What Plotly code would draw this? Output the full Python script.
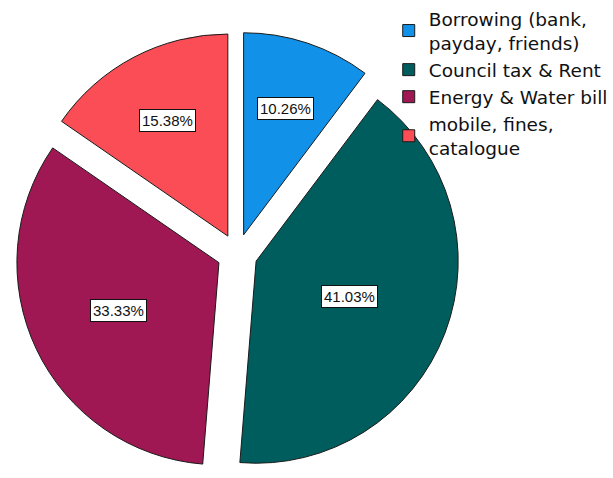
import math
import plotly.graph_objects as go

# Survey: type of debt respondents were behind on (n = 39)
categories = [
    "Borrowing (bank,<br>payday, friends)",
    "Council tax & Rent",
    "Energy & Water bill",
    "mobile, fines,<br>catalogue",
]
counts = [4, 16, 13, 6]
colors = ["#1192e8", "#005d5d", "#9f1853", "#fa4d56"]

W, H = 613, 478
PULL = 0.1
# pie domain (paper fractions)
dom_x = [15 / W, 461 / W]
dom_y = [0.0, 1 - 30 / H]

fig = go.Figure()
fig.add_trace(go.Pie(
    labels=categories,
    values=counts,
    marker=dict(colors=colors, line=dict(color="#1a1a1a", width=1)),
    pull=[PULL] * len(counts),
    sort=False,
    direction="clockwise",
    rotation=0,
    textinfo="none",
    hoverinfo="label+percent",
    domain=dict(x=dom_x, y=dom_y),
    showlegend=True,
))

# percentage boxes at each exploded slice's centroid
total = sum(counts)
box_w = W * (dom_x[1] - dom_x[0])
box_h = H * (dom_y[1] - dom_y[0])
R = min(box_w, box_h) / 2 / (1 + PULL)
cx = W * (dom_x[0] + dom_x[1]) / 2
cy = H * (1 - (dom_y[0] + dom_y[1]) / 2)
start = 0.0
for n in counts:
    frac = n / total
    sweep = frac * 2 * math.pi
    mid = start + sweep / 2
    half = sweep / 2
    rc = 2 * R * math.sin(half) / (3 * half) + PULL * R
    px = cx + rc * math.sin(mid)
    py = cy - rc * math.cos(mid)
    fig.add_annotation(
        x=px / W, y=1 - py / H, xref="paper", yref="paper",
        xanchor="center", yanchor="middle",
        text=f"{frac * 100:.2f}%", showarrow=False,
        font=dict(family="Liberation Sans, Arial", size=15, color="#111"),
        bgcolor="white", bordercolor="#111", borderwidth=1, borderpad=2,
    )
    start += sweep

fig.update_layout(
    width=W, height=H,
    margin=dict(l=0, r=0, t=0, b=0),
    paper_bgcolor="white",
    plot_bgcolor="white",
    legend=dict(
        x=390 / W, y=1, xanchor="left", yanchor="top",
        font=dict(family="DejaVu Sans", size=18.5, color="#111"),
        bgcolor="rgba(0,0,0,0)", tracegroupgap=0,
        traceorder="normal",
    ),
)

fig.write_html("out.html")
